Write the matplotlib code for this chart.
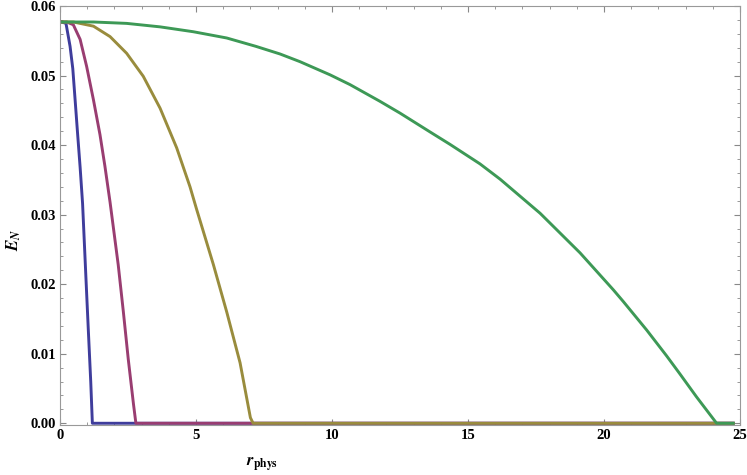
import matplotlib.pyplot as plt
from matplotlib.ticker import MultipleLocator

# values
r_blue = [0, 0.06, 0.22, 0.37, 0.47, 0.55, 0.64, 0.74, 0.83, 0.95,
          1.04, 1.13, 1.19, 24.75]
e_blue = [0.0577, 0.0577, 0.0575, 0.0542, 0.0510, 0.0468, 0.0420, 0.0368,
          0.0316, 0.0212, 0.0135, 0.0060, 0.0, 0.0]

r_mag = [0, 0.25, 0.49, 0.74, 0.98, 1.23, 1.47, 1.65, 1.84, 2.14,
         2.33, 2.51, 2.70, 2.79, 24.75]
e_mag = [0.0577, 0.0577, 0.0573, 0.0552, 0.0513, 0.0465, 0.0415, 0.0370,
         0.0318, 0.0228, 0.0160, 0.0092, 0.0028, 0.0, 0.0]

r_olive = [0, 0.49, 1.23, 1.84, 2.45, 3.06, 3.68, 4.29, 4.78, 5.02, 5.64,
           6.13, 6.62, 7.0, 7.1, 24.75]
e_olive = [0.0577, 0.0577, 0.0571, 0.0556, 0.0532, 0.0499, 0.0453, 0.0396,
           0.0340, 0.0308, 0.0228, 0.0160, 0.0087, 0.0008, 0.0, 0.0]

r_green = [0, 1.23, 2.45, 3.68, 4.90, 6.13, 7.2, 8.09, 8.82, 9.93, 10.66,
           11.76, 12.5, 13.6, 14.34, 15.44, 16.18, 17.65, 19.12, 20.34,
           20.71, 21.57, 22.3, 22.79, 23.4, 23.77, 24.14, 24.75]
e_green = [0.0577, 0.0577, 0.0575, 0.0570, 0.0563, 0.0554, 0.0542, 0.0531,
           0.0520, 0.0501, 0.0487, 0.0463, 0.0446, 0.0419, 0.0401, 0.0373,
           0.0351, 0.0302, 0.0245, 0.0192, 0.0175, 0.0134, 0.0097, 0.0071,
           0.0038, 0.0019, 0.0, 0.0]

colors = ['#3f3d9c', '#993d71', '#998c3d', '#3d9956']

plt.rcParams['font.family'] = ['Liberation Serif', 'DejaVu Serif']
plt.rcParams['mathtext.fontset'] = 'stix'

fig = plt.figure(figsize=(7.47, 4.75), dpi=100)
ax = fig.add_axes([60 / 747, 1 - 425 / 475, 680 / 747, 419 / 475])

ax.plot(r_blue, e_blue, color=colors[0], lw=2.1, solid_joinstyle='round')
ax.plot(r_mag, e_mag, color=colors[1], lw=2.1, solid_joinstyle='round')
ax.plot(r_olive, e_olive, color=colors[2], lw=2.1, solid_joinstyle='round')
ax.plot(r_green, e_green, color=colors[3], lw=2.1, solid_joinstyle='round')

ax.set_xlim(0, 25)
ax.set_ylim(-0.00025, 0.06)
ax.xaxis.set_major_locator(MultipleLocator(5))
ax.xaxis.set_minor_locator(MultipleLocator(1))
ax.yaxis.set_major_locator(MultipleLocator(0.01))
ax.yaxis.set_minor_locator(MultipleLocator(0.002))
ax.yaxis.set_major_formatter(lambda v, p: f'{v:.2f}')

for s in ax.spines.values():
    s.set_color('#999999')
    s.set_linewidth(0.8)
ax.tick_params(which='both', direction='in', top=True, right=True, color='#888888')
ax.tick_params(which='major', length=4, width=0.8, labelsize=10.5, pad=3)
ax.tick_params(which='minor', length=2.5, width=0.6)
for lab in ax.get_xticklabels() + ax.get_yticklabels():
    lab.set_fontweight('bold')

fig.text(262 / 747, 1 - 465 / 475, r'$\boldsymbol{r}_{\mathbf{phys}}$',
         ha='center', va='center', fontsize=12)
fig.text(14 / 747, 1 - 240 / 475, r'$\boldsymbol{E}_{\boldsymbol{N}}$',
         ha='center', va='center', fontsize=12, rotation=90)

fig.savefig('out.png', dpi=100)
